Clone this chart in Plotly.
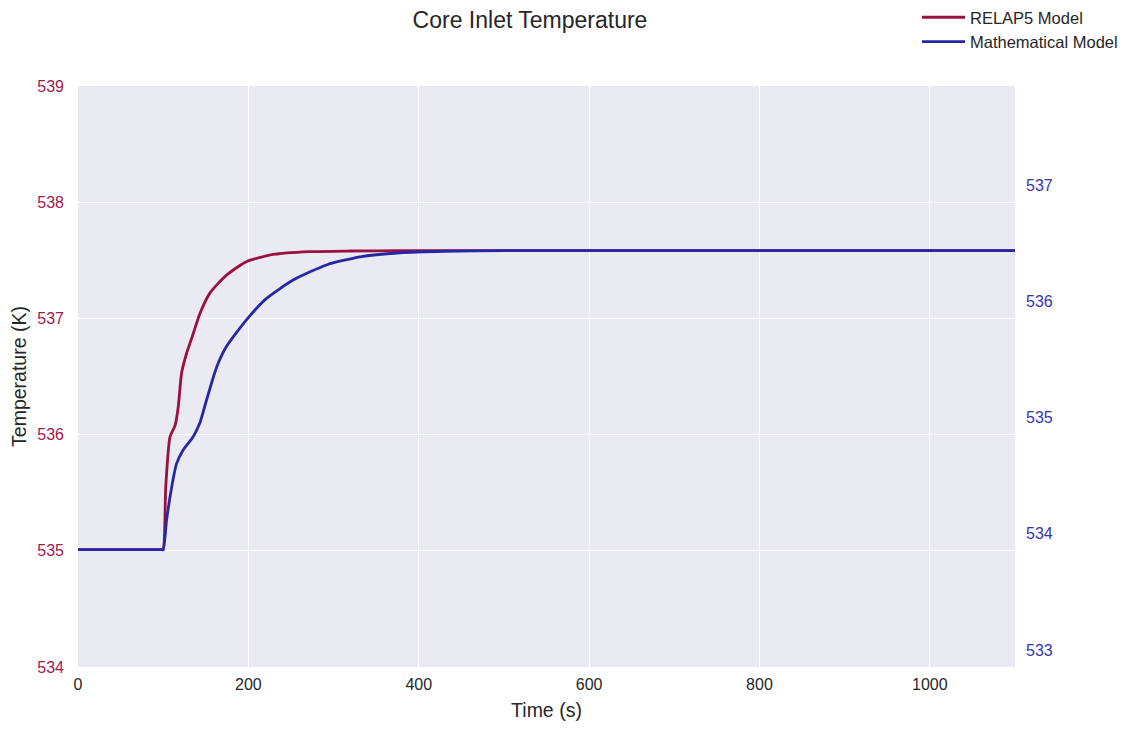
import plotly.graph_objects as go

# Time (s)
relap_t = [0, 50, 98, 100, 103, 108, 114, 117.7, 121.6, 127.5, 135.3, 143, 155, 174, 198, 229, 272, 320, 378, 500, 700, 900, 1100]
# RELAP5 model core inlet temperature (K), left axis
relap_T = [535.01, 535.01, 535.01, 535.01, 535.55, 535.98, 536.08, 536.24, 536.53, 536.70, 536.87, 537.04, 537.22, 537.37, 537.49, 537.55, 537.574, 537.580, 537.583, 537.584, 537.584, 537.584, 537.584]

math_t = [0, 50, 98, 100, 104, 110, 115.7, 123.6, 135, 143, 151, 162.7, 174.4, 198, 221, 252.6, 291.7, 331, 378, 430, 500, 700, 900, 1100]
# Mathematical model core inlet temperature (K), right axis
math_T = [533.864, 533.864, 533.864, 533.864, 534.119, 534.404, 534.604, 534.724, 534.834, 534.954, 535.154, 535.434, 535.614, 535.844, 536.024, 536.184, 536.314, 536.384, 536.419, 536.432, 536.437, 536.438, 536.438, 536.438]

left_ticks = [534, 535, 536, 537, 538, 539]
right_ticks = [533, 534, 535, 536, 537]
x_ticks = [0, 200, 400, 600, 800, 1000]

RED = "#9C1040"
BLUE = "#2727A6"
RED_TXT = "#A8184B"
BLUE_TXT = "#3535B2"

W, H = 1112, 713
L, R, T, B = 70, 105, 78, 54
PH = H - T - B

fig = go.Figure()
fig.add_trace(go.Scatter(x=relap_t, y=relap_T, mode="lines", name="RELAP5 Model",
                         line=dict(color=RED, width=2.8, shape="spline", smoothing=0.6),
                         legendgroup="a"))
fig.add_trace(go.Scatter(x=math_t, y=math_T, mode="lines", name="Mathematical Model",
                         line=dict(color=BLUE, width=2.8, shape="spline", smoothing=0.6),
                         yaxis="y2", legendgroup="b"))

font_family = "Liberation Sans, Arial, sans-serif"

fig.update_layout(
    width=W, height=H,
    paper_bgcolor="white",
    plot_bgcolor="#EAEAF2",
    margin=dict(l=L, r=R, t=T, b=B, autoexpand=False),
    font=dict(family=font_family, size=16, color="#262626"),
    title=dict(text="Core Inlet Temperature", x=522/W, xanchor="center",
               xref="container", yref="container",
               y=1 - 4/H, yanchor="top",
               font=dict(size=23, color="#262626")),
    xaxis=dict(range=[0, 1100], tickvals=x_ticks, showgrid=True, gridcolor="white",
               gridwidth=1.3, zeroline=False, showline=False, ticks="",
               tickfont=dict(size=16, color="#262626"), ticklabelstandoff=6,
               title=dict(text="Time (s)", font=dict(size=19.5, color="#262626"), standoff=14)),
    yaxis=dict(range=[534, 539], tickvals=left_ticks, showgrid=True, gridcolor="white",
               gridwidth=1.3, zeroline=False, showline=False, ticks="",
               tickfont=dict(size=16, color=RED_TXT), ticklabelstandoff=13,
               title=dict(text="Temperature (K)", font=dict(size=19.5, color="#262626"), standoff=8)),
    yaxis2=dict(range=[532.854, 537.854], tickvals=right_ticks, overlaying="y", side="right",
                showgrid=False, zeroline=False, showline=False, ticks="",
                tickfont=dict(size=16, color=BLUE_TXT), ticklabelstandoff=10),
    legend=dict(x=(909 - L) / (W - L - R), xanchor="left", y=1 + (T + 8) / PH, yanchor="top",
                bgcolor="rgba(0,0,0,0)", tracegroupgap=0, itemwidth=43,
                font=dict(size=16.5, color="#262626")),
    showlegend=True,
)

fig.write_html("out.html")
